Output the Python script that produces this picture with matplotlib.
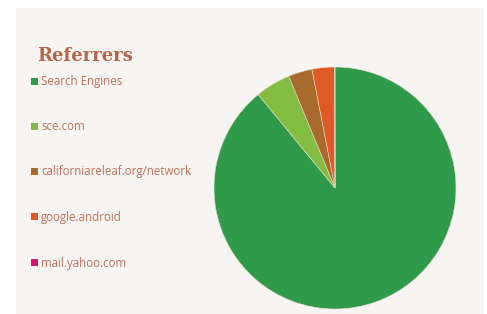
import matplotlib
matplotlib.use("Agg")
import matplotlib.pyplot as plt
from matplotlib.patches import Rectangle

# -- data
labels = ["Search Engines", "sce.com", "californiareleaf.org/network",
          "google.android", "mail.yahoo.com"]
visits = [891, 47, 32, 30, 0.5]
colors = ["#2e9a4a", "#82bc41", "#a86b2d", "#e05a27", "#d11866"]

W, H = 487, 314
fig = plt.figure(figsize=(W/100., H/100.), dpi=100)
fig.patch.set_facecolor("white")

# panel background
bg = fig.add_axes([0, 0, 1, 1])
bg.set_xlim(0, W)
bg.set_ylim(H, 0)
bg.axis("off")
bg.add_patch(Rectangle((16, 8), 468, 306, color="#f6f5f2", lw=0))

# title + legend
bg.text(37, 61, "Referrers", fontsize=13, fontweight="heavy",
        family="DejaVu Serif", color="#b5654a", va="baseline")
ys = [82, 127, 172, 217, 263]
for lab, col, y in zip(labels, colors, ys):
    bg.add_patch(Rectangle((31, y - 4), 7, 7, color=col, lw=0))
    bg.text(41, y, lab, fontsize=8.3, family="Open Sans", color="#c0705a",
            va="center")

# pie
r = 121.
cx, cy = 335., 188.
ax = fig.add_axes([(cx - r)/W, 1 - (cy + r)/H, 2*r/W, 2*r/H])
ax.pie(visits, colors=colors, startangle=90, counterclock=False,
       wedgeprops=dict(edgecolor="#f0d8c8", linewidth=0.4))
ax.set_xlim(-1, 1)
ax.set_ylim(-1, 1)
ax.set_aspect("auto")

fig.savefig("out.png", dpi=100)
